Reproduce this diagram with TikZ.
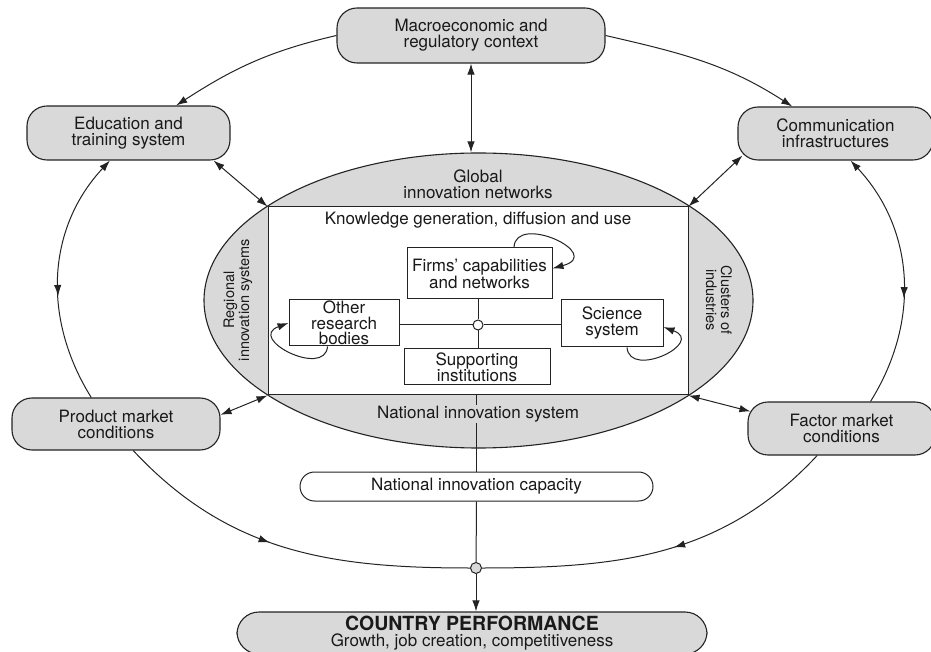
\documentclass[tikz,border=0pt]{standalone}
\usepackage{fontspec}
\setmainfont{TeX Gyre Heros}
\usetikzlibrary{arrows.meta,positioning,calc,shapes.geometric,decorations.markings}
\definecolor{boxgray}{RGB}{217,217,217}
\definecolor{linegray}{RGB}{35,35,35}
\tikzset{
  txt/.style={font=\fontsize{17}{16}\selectfont, align=center, text=black!90},
  vtxt/.style={font=\fontsize{14.5}{15}\selectfont, align=center, text=black!90},
  outer/.style={draw=linegray, fill=boxgray, rounded corners=20pt, txt,
                line width=1.1pt, inner sep=2pt},
  inbox/.style={draw=linegray, fill=white, txt, line width=1pt, inner sep=1pt},
  plain/.style={line width=1pt, draw=linegray},
  link/.style={-{Latex[length=11pt,width=7.5pt]}, plain},
  dlink/.style={{Latex[length=11pt,width=7.5pt]}-{Latex[length=11pt,width=7.5pt]}, plain},
  midarrow/.style={postaction={decorate}, decoration={markings,
      mark=at position #1 with {\arrow{Latex[length=11pt,width=7.5pt]}}}},
  midback/.style={postaction={decorate}, decoration={markings,
      mark=at position #1 with {\arrowreversed{Latex[length=11pt,width=7.5pt]}}}}
}

\begin{document}
\begin{tikzpicture}[x=1pt,y=1pt]
  \useasboundingbox (0,0) rectangle (931,651);
  % national innovation system
  \node[ellipse, draw=linegray, fill=boxgray, line width=1.1pt, inner sep=0,
        minimum width=549pt, minimum height=295pt] (nis) at (478.5,350.5) {};
  \node[draw=linegray, fill=white, line width=1pt, inner sep=0,
        minimum width=420pt, minimum height=188pt] (kgd) at (478,350) {};
  \node[txt] (glob) at (478,467) {Global\\innovation networks};
  \node[txt] (know) at (478,431) {Knowledge generation, diffusion and use};
  \node[vtxt, rotate=90] (reg) at (238,351) {Regional\\innovation systems};
  \node[vtxt, rotate=-90] (clus) at (719,351) {Clusters of\\industries};

  \node[inbox, minimum width=145pt, minimum height=51pt] (firms) at (479.5,377.5) {Firms' capabilities\\and networks};
  \node[inbox, minimum width=110pt, minimum height=46pt, inner sep=0pt,
        font=\fontsize{17}{15.5}\selectfont] (other) at (344,328) {Other\\research\\bodies};
  \node[inbox, minimum width=102pt, minimum height=47pt] (sci) at (612,327.5) {Science\\system};
  \node[inbox, minimum width=146pt, minimum height=36pt] (supp) at (477,284) {Supporting\\institutions};
  \node[circle, draw=linegray, fill=white, line width=1pt, minimum size=10pt, inner sep=0] (hub) at (478,326) {};

  \draw[plain] (hub) -- (hub |- firms.south);
  \draw[plain] (hub) -- (hub |- supp.north);
  \draw[plain] (hub) -- (other.east |- hub);
  \draw[plain] (hub) -- (sci.west |- hub);
  \draw[link] (firms.37) .. controls +(88:35) and +(15:55) .. (firms.4);
  \draw[link] (other.235) .. controls +(-95:32) and +(200:45) .. (other.west);
  \draw[link] (sci.302) .. controls +(-85:32) and +(-20:45) .. (sci.356);

  % surrounding conditions
  \node[outer, minimum width=268pt, minimum height=55pt] (macro) at (471,615.5) {Macroeconomic and\\regulatory context};
  \node[outer, minimum width=203pt, minimum height=54pt] (edu) at (128.5,518) {Education and\\training system};
  \node[outer, minimum width=195pt, minimum height=53pt] (comm) at (835.5,517.5) {Communication\\infrastructures};
  \node[outer, minimum width=208pt, minimum height=52pt] (prod) at (116,227) {Product market\\conditions};
  \node[outer, minimum width=187pt, minimum height=53pt] (fac) at (841.5,222.5) {Factor market\\conditions};
  \node[draw=linegray, fill=white, rounded corners=14.5pt, txt, line width=1pt, inner sep=0,
        minimum width=353pt, minimum height=29pt] (cap) at (476.5,164.5) {National innovation capacity};
  \node[circle, draw=linegray, fill=boxgray, line width=1pt, minimum size=11pt, inner sep=0] (bhub) at (476,83) {};
  \node[outer, rounded corners=22pt, minimum width=470pt, minimum height=42pt, inner sep=1pt] (perf) at (472,18)
       {{\bfseries\fontsize{19.5}{19.5}\selectfont COUNTRY PERFORMANCE}\\Growth, job creation, competitiveness};

  \draw[plain] (cap.north |- kgd.south) -- (cap.north);
  \node[txt, fill=boxgray, inner sep=1pt] (nislbl) at (478,237) {National innovation system};
  \draw[plain] (cap.south) -- (bhub);
  \draw[link] (bhub) -- (bhub |- perf.north);

  \draw[link] (macro.west) to[out=193, in=33] (edu.30);
  \draw[link] (macro.east) to[out=-13, in=147] (comm.148);
  \draw[link, midback=0.42] (prod.133) to[out=122, in=227] (edu.236);
  \draw[link, midback=0.42] (fac.43) to[out=58, in=313] (comm.299);
  \draw[plain, midarrow=0.45] (prod.303) to[out=-47, in=180] (bhub);
  \draw[plain, midarrow=0.47] (fac.228) to[out=227, in=0] (bhub);

  \draw[dlink] (macro.south) -- (macro.south |- nis.north);
  \draw[dlink] ($(edu.south east)+(-17,0)$) -- (kgd.north west);
  \draw[dlink] ($(comm.south west)+(5,5)$) -- (kgd.north east);
  \draw[dlink] (prod.5) -- (kgd.south west);
  \draw[dlink] ($(fac.north west)+(3,-10)$) -- (kgd.south east);
\end{tikzpicture}
\end{document}
